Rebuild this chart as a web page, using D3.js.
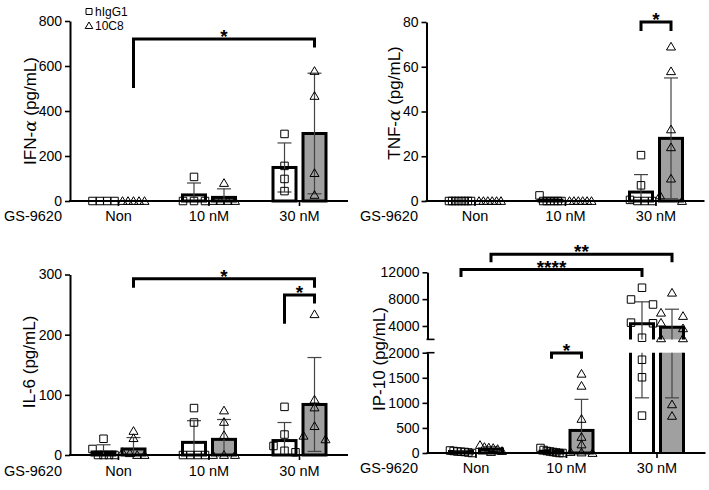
<!DOCTYPE html>
<html><head><meta charset="utf-8">
<script src="https://cdn.jsdelivr.net/npm/d3@7"></script>
<style>body{margin:0;background:#fff} svg text{font-family:"Liberation Sans",Arial,sans-serif;fill:#000}</style>
</head><body><svg id="c" width="709" height="490"></svg>
<script>
// ---------- data ----------
const categories = ["Non", "10 nM", "30 nM"];
const seriesNames = ["hIgG1", "10C8"];
const treatmentLabel = "GS-9620";

// IFN-alpha
const ifnTicks = [0, 200, 400, 600, 800];
const ifnHigG1Points = [[0, 0, 0, 0], [107, 0, 0, 0], [298, 156, 98, 44]];
const ifn10C8Points = [[0, 0, 0, 0, 0], [80, 0, 0, 0, 0], [578, 467, 124, 27]];
const ifnHigG1Mean = [0, 27, 149];
const ifnHigG1SD = [0, 53, 109];
const ifn10C8Mean = [0, 16, 300];
const ifn10C8SD = [0, 38, 268];
const ifnBrackets = [{from: [0, 1], to: [2, 1], top: 720, leftEnd: 502, rightEnd: 682, label: "*"}];

// TNF-alpha
const tnfTicks = [0, 20, 40, 60, 80];
const tnfHigG1Points = [[0, 0, 0, 0, 0, 0, 0, 0], [2.5, 0, 0, 0, 0, 0, 0], [20.5, 7, 0.5, 0, 0, 0]];
const tnf10C8Points = [[0, 0, 0, 0, 0, 0], [0, 0, 0, 0, 0, 0], [69, 58, 32, 24, 10, 2.5, 0]];
const tnfHigG1Mean = [0, 0.4, 4];
const tnfHigG1SD = [0, 0.9, 7.8];
const tnf10C8Mean = [0, 0, 28];
const tnf10C8SD = [0, 0, 27];
const tnfBrackets = [{from: [2, 0], to: [2, 1], top: 80, leftEnd: 76, rightEnd: 76, label: "*"}];

// IL-6
const il6Ticks = [0, 100, 200, 300];
const il6HigG1Points = [[27, 10, 0, 0, 0, 0], [78, 54, 0, 0, 0, 0], [80, 34, 15, 7, 4.5]];
const il610C8Points = [[40, 28, 5, 3, 0, 0], [74, 55, 33, 0, 0, 0], [234, 92, 79, 48, 32, 26]];
const il6HigG1Mean = [5, 21, 24];
const il6HigG1SD = [12, 36, 30];
const il610C8Mean = [10, 26, 84];
const il610C8SD = [19, 33, 78];
const il6Brackets = [
  {from: [0, 1], to: [2, 1], top: 293, leftEnd: 278, rightEnd: 278, label: "*"},
  {from: [2, 0], to: [2, 1], top: 266, leftEnd: 218, rightEnd: 252, label: "*"}
];

// IP-10 (broken axis)
const ip10LowerTicks = [0, 500, 1000, 1500, 2000];
const ip10UpperTicks = [4000, 8000, 12000];
const ip10Break = 2000;
const ip10Max = 12000;
const ip10HigG1Points = [[50, 40, 30, 25, 20, 10, 0], [100, 60, 40, 30, 20, 10, 0, 0],
  [9700, 7950, 7200, 4500, 4400, 2250, 1860, 1510, 745]];
const ip1010C8Points = [[160, 120, 110, 100, 80, 40, 20], [1580, 1340, 680, 320, 170, 20, 10, 0],
  [8960, 5980, 5490, 4490, 3650, 2160, 2160, 970, 740]];
const ip10HigG1Mean = [30, 35, 4350];
const ip10HigG1SD = [20, 35, 3250];
const ip1010C8Mean = [80, 450, 3800];
const ip1010C8SD = [45, 620, 2700];
const ip10Brackets = [
  {from: [0, 1], to: [2, 1], top: 14700, leftEnd: 13500, rightEnd: 13500, label: "**"},
  {from: [0, 0], to: [2, 0], top: 12400, leftEnd: 11300, rightEnd: 11300, label: "****"},
  {from: [1, 0], to: [1, 1], top: 1995, leftEnd: 1880, rightEnd: 1880, label: "*"}
];

// ---------- drawing ----------
const svg = d3.select("#c");
const GROUP_OFF = [-15, 15];
const BAR_W = 23;
const FILLS = ["#ffffff", "#a0a0a0"];

function squarePath(s) { const h = s / 2; return `M${-h},${-h}H${h}V${h}H${-h}Z`; }
function triPath() { return "M0,-4.3L4.5,3.4L-4.5,3.4Z"; }

function jitter(vals, yMap) {
  const idx = vals.map((v, i) => ({v, i, py: yMap(v)})).sort((a, b) => a.py - b.py);
  const off = new Array(vals.length).fill(0);
  let k = 0;
  while (k < idx.length) {
    let j = k;
    while (j + 1 < idx.length && idx[j + 1].py - idx[k].py < 6.5) j++;
    const n = j - k + 1;
    if (n > 1) for (let t = 0; t < n; t++) off[idx[k + t].i] = -11 + 22 * t / (n - 1);
    k = j + 1;
  }
  return off;
}

function drawPanel(p) {
  const g = svg.append("g");
  const x = d3.scalePoint().domain(categories).range([p.ax + 48.5, p.ax + 229.5]);
  const yMap = p.broken
    ? (v => v <= p.breakVal ? p.lower(v) : p.upper(v))
    : (v => p.scale(v));
  const y0 = yMap(0);
  const cx = (ci, si) => x(categories[ci]) + GROUP_OFF[si];

  // bars
  p.series.forEach((s, si) => {
    s.mean.forEach((m, ci) => {
      if (m <= 0) return;
      const c = cx(ci, si), l = c - BAR_W / 2, r = c + BAR_W / 2;
      if (p.broken && m > p.breakVal) {
        const yb = p.lower(p.breakVal), yu = p.upper(p.breakVal), yt = p.upper(m);
        g.append("rect").attr("x", l).attr("y", yb).attr("width", BAR_W).attr("height", y0 - yb).attr("fill", FILLS[si]);
        g.append("rect").attr("x", l).attr("y", yt).attr("width", BAR_W).attr("height", yu - yt).attr("fill", FILLS[si]);
        g.append("path").attr("d", `M${l},${y0}V${yb}M${r},${yb}V${y0}`).attr("stroke", "#000").attr("stroke-width", 3).attr("fill", "none");
        g.append("path").attr("d", `M${l},${yu}V${yt}H${r}V${yu}`).attr("stroke", "#000").attr("stroke-width", 3).attr("fill", "none");
      } else {
        const yt = yMap(m);
        g.append("rect").attr("x", l).attr("y", yt).attr("width", BAR_W).attr("height", y0 - yt)
          .attr("fill", FILLS[si]).attr("stroke", "#000").attr("stroke-width", 3);
      }
    });
  });

  // error bars
  p.series.forEach((s, si) => {
    s.mean.forEach((m, ci) => {
      const sd = s.sd[ci];
      if (!(sd > 0)) return;
      const c = cx(ci, si);
      const lo = Math.max(0, m - sd), hi = m + sd;
      const segs = [];
      if (p.broken) {
        if (lo < p.breakVal) segs.push([p.lower(lo), p.lower(Math.min(hi, p.breakVal))]);
        if (hi > p.breakVal) segs.push([p.upper(Math.max(lo, p.breakVal)), p.upper(hi)]);
      } else segs.push([yMap(lo), yMap(hi)]);
      segs.forEach(sg => g.append("line").attr("x1", c).attr("x2", c).attr("y1", sg[0]).attr("y2", sg[1])
        .attr("stroke", "#444").attr("stroke-width", 1.2));
      const caps = [hi]; if (m - sd > 0) caps.push(m - sd);
      caps.forEach(v => g.append("line").attr("x1", c - 7).attr("x2", c + 7).attr("y1", yMap(v)).attr("y2", yMap(v))
        .attr("stroke", "#444").attr("stroke-width", 1.2));
    });
  });

  // axes
  const axisStyle = sel => {
    sel.select(".domain").attr("stroke", "#000").attr("stroke-width", 2);
    sel.selectAll(".tick line").attr("stroke", "#000").attr("stroke-width", 1.6);
    sel.selectAll(".tick text").style("font-size", "14px").attr("fill", "#000");
  };
  if (p.broken) {
    const la = g.append("g").attr("transform", `translate(${p.ax},0)`)
      .call(d3.axisLeft(p.lower).tickValues(p.lowerTicks).tickSize(5).tickSizeOuter(0).tickPadding(3).tickFormat(d3.format("d")));
    axisStyle(la);
    const ua = g.append("g").attr("transform", `translate(${p.ax},0)`)
      .call(d3.axisLeft(p.upper).tickValues(p.upperTicks).tickSize(5).tickSizeOuter(0).tickPadding(3).tickFormat(d3.format("d")));
    axisStyle(ua);
    [p.lower(p.breakVal), p.upper(p.breakVal)].forEach(yy =>
      g.append("line").attr("x1", p.ax - 1).attr("x2", p.ax + 7).attr("y1", yy).attr("y2", yy)
        .attr("stroke", "#000").attr("stroke-width", 1.6));
  } else {
    const ya = g.append("g").attr("transform", `translate(${p.ax},0)`)
      .call(d3.axisLeft(p.scale).tickValues(p.ticks).tickSize(5).tickSizeOuter(0).tickPadding(3));
    axisStyle(ya);
  }
  g.append("line").attr("x1", p.ax - 1).attr("x2", p.ax + 278).attr("y1", y0).attr("y2", y0)
    .attr("stroke", "#000").attr("stroke-width", 2);
  categories.forEach(cat => {
    g.append("line").attr("x1", x(cat)).attr("x2", x(cat)).attr("y1", y0).attr("y2", y0 + 5)
      .attr("stroke", "#000").attr("stroke-width", 1.6);
    g.append("text").attr("x", x(cat)).attr("y", p.catBase).attr("text-anchor", "middle")
      .style("font-size", "14.5px").text(cat);
  });
  g.append("text").attr("x", p.gsEnd).attr("y", p.catBase).attr("text-anchor", "end")
    .style("font-size", "14.5px").text(treatmentLabel);

  // y label
  const yl = g.append("text").attr("transform", `translate(${p.ylx},${p.yly}) rotate(-90)`)
    .attr("text-anchor", "middle").attr("dy", "0.35em").style("font-size", "17px");
  yl.append("tspan").text(p.ylab[0]);
  if (p.ylab.length > 1) {
    yl.append("tspan").style("font-family", "'DejaVu Serif',serif").style("font-style", "italic").text(p.ylab[1]);
    yl.append("tspan").text(p.ylab[2]);
  }

  // points
  p.series.forEach((s, si) => {
    s.points.forEach((vals, ci) => {
      const off = jitter(vals, yMap);
      const c = cx(ci, si);
      vals.forEach((v, i) => {
        g.append("path").attr("transform", `translate(${c + off[i]},${yMap(v)})`)
          .attr("d", si === 0 ? squarePath(7.5) : triPath())
          .attr("fill", "none").attr("stroke", "#000").attr("stroke-width", 1);
      });
    });
  });

  // significance brackets
  p.brackets.forEach(b => {
    const x1 = cx(b.from[0], b.from[1]), x2 = cx(b.to[0], b.to[1]);
    const yt = yMap(b.top), yl1 = yMap(b.leftEnd), yr = yMap(b.rightEnd);
    g.append("path").attr("d", `M${x1},${yl1}V${yt}H${x2}V${yr}`)
      .attr("fill", "none").attr("stroke", "#000").attr("stroke-width", 3);
    g.append("text").attr("x", (x1 + x2) / 2).attr("y", yt + 4).attr("text-anchor", "middle")
      .style("font-size", "19px").style("font-weight", "bold").text(b.label);
  });
}

drawPanel({
  ax: 70, scale: d3.scaleLinear().domain([0, 800]).range([201, 21]), ticks: ifnTicks,
  catBase: 221, gsEnd: 62, ylx: 30, yly: 111, ylab: ["IFN-", "α", " (pg/mL)"],
  series: [{points: ifnHigG1Points, mean: ifnHigG1Mean, sd: ifnHigG1SD},
           {points: ifn10C8Points, mean: ifn10C8Mean, sd: ifn10C8SD}],
  brackets: ifnBrackets
});
drawPanel({
  ax: 426.5, scale: d3.scaleLinear().domain([0, 80]).range([201, 22]), ticks: tnfTicks,
  catBase: 221, gsEnd: 418, ylx: 394, yly: 103, ylab: ["TNF-", "α", " (pg/mL)"],
  series: [{points: tnfHigG1Points, mean: tnfHigG1Mean, sd: tnfHigG1SD},
           {points: tnf10C8Points, mean: tnf10C8Mean, sd: tnf10C8SD}],
  brackets: tnfBrackets
});
drawPanel({
  ax: 70, scale: d3.scaleLinear().domain([0, 300]).range([455, 274.5]), ticks: il6Ticks,
  catBase: 476, gsEnd: 62, ylx: 29, yly: 362, ylab: ["IL-6 (pg/mL)"],
  series: [{points: il6HigG1Points, mean: il6HigG1Mean, sd: il6HigG1SD},
           {points: il610C8Points, mean: il610C8Mean, sd: il610C8SD}],
  brackets: il6Brackets
});
drawPanel({
  ax: 427.5, broken: true, breakVal: ip10Break,
  lower: d3.scaleLinear().domain([0, ip10Break]).range([453, 352.7]),
  upper: d3.scaleLinear().domain([ip10Break, ip10Max]).range([339.4, 272.3]),
  lowerTicks: ip10LowerTicks, upperTicks: ip10UpperTicks,
  catBase: 473, gsEnd: 418, ylx: 379, yly: 359, ylab: ["IP-10 (pg/mL)"],
  series: [{points: ip10HigG1Points, mean: ip10HigG1Mean, sd: ip10HigG1SD},
           {points: ip1010C8Points, mean: ip1010C8Mean, sd: ip1010C8SD}],
  brackets: ip10Brackets
});

// legend
const lg = svg.append("g");
seriesNames.forEach((n, i) => {
  const yy = 11.5 + i * 14;
  lg.append("path").attr("transform", `translate(89,${yy})`)
    .attr("d", i === 0 ? squarePath(6) : "M0,-3.5L3.8,3L-3.8,3Z")
    .attr("fill", "none").attr("stroke", "#000").attr("stroke-width", 1);
  lg.append("text").attr("x", 95).attr("y", yy + 4.5).style("font-size", "12px").text(n);
});
</script></body></html>
